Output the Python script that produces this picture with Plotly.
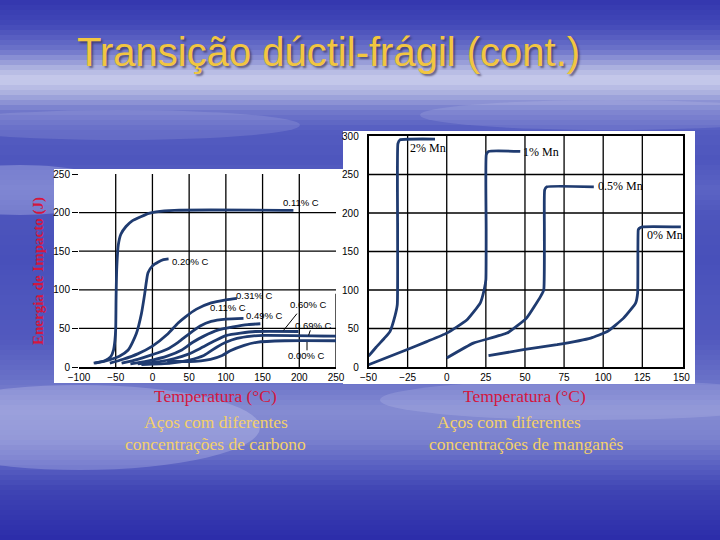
import plotly.graph_objects as go

# ---------------- data: carbon steels (Temperature °C -> Impact energy J)
c_labels = ["0.11% C", "0.20% C", "0.31% C", "0.11% C", "0.49% C", "0.60% C", "0.69% C", "0.00% C"]

c011_T = [-80, -65, -57, -53, -51, -50, -49.5, -48.5, -46.5, -43, -36, -28, -15, -5, 5, 30, 192]
c011_E = [5, 8, 13, 22, 35, 50, 90, 130, 158, 172, 182, 189, 195, 199, 201, 203, 203]

c020_T = [-78, -60, -45, -33, -22, -15, -10.5, -8, -6, 0, 8, 15, 22]
c020_E = [5, 9, 14, 22, 43, 69, 95, 112, 122, 131, 136, 139, 140]

c031_T = [-58, -40, -20, 0, 20, 35, 45, 60, 80, 100, 115]
c031_E = [5, 10, 17, 27, 42, 57, 65, 75, 83, 87, 89]

c041_T = [-42, -20, 0, 20, 35, 50, 65, 80, 100, 124]
c041_E = [5, 10, 16, 23, 32, 43, 53, 59, 62, 63]

c049_T = [-30, 0, 20, 40, 55, 70, 90, 110, 130, 147]
c049_E = [4, 9, 14, 22, 32, 40, 48, 52, 55, 56]

c060_T = [-20, 10, 30, 50, 65, 85, 101, 120, 140, 199]
c060_E = [4, 7, 11, 17, 24, 34, 41, 44, 46, 46]

c069_T = [-15, 25, 50, 70, 88, 100, 115, 135, 151, 250]
c069_E = [3, 5, 9, 15, 26, 32, 37, 40, 41, 40]

c000_T = [20, 50, 79, 95, 106, 125, 142, 180, 250]
c000_E = [8, 7, 10, 15, 21, 28, 32, 34, 34]

carbon_T = [c011_T, c020_T, c031_T, c041_T, c049_T, c060_T, c069_T, c000_T]
carbon_E = [c011_E, c020_E, c031_E, c041_E, c049_E, c060_E, c069_E, c000_E]

# ---------------- data: manganese steels
mn_labels = ["2% Mn", "1% Mn", "0.5% Mn", "0% Mn"]

mn2_T = [-50, -45, -40, -36.3, -33.1, -31.6, -31.4, -31.2, -29.9, -7.5]
mn2_E = [14, 26, 37, 46, 66, 81, 178, 290, 295, 296]

mn1_T = [-50, -25.6, -12.8, 0, 12.8, 21.4, 23.9, 25, 25.2, 25.3, 26.7, 47]
mn1_E = [3, 22.5, 33, 44, 61, 83, 100, 113, 178, 276, 280, 280]

mn05_T = [0, 17, 38.5, 51, 60, 62, 62.4, 62.6, 64, 94]
mn05_E = [11.7, 31, 44, 63.5, 91.7, 100, 178, 230, 234, 234]

mn0_T = [26.7, 49, 70.5, 92, 102.6, 113, 120.7, 122, 122.4, 123, 125, 149.6]
mn0_E = [14.7, 22.5, 29, 37.6, 46, 63.5, 83, 96, 178, 180, 182, 182]

mn_T = [mn2_T, mn1_T, mn05_T, mn0_T]
mn_E = [mn2_E, mn1_E, mn05_E, mn0_E]

# tick values
c_xticks = [-100, -50, 0, 50, 100, 150, 200, 250]
c_yticks = [0, 50, 100, 150, 200, 250]
m_xticks = [-50, -25, 0, 25, 50, 75, 100, 125, 150]
m_yticks = [0, 50, 100, 150, 200, 250, 300]

# ---------------- styling / layout helpers
W, H = 720, 540
LINE = "#1f3b70"


def px(x):
    return x / W


def py(y):
    return 1 - y / H


def hex2rgb(h):
    h = h.lstrip("#")
    return tuple(int(h[i:i + 2], 16) for i in (0, 2, 4))


bg_stops = [(0, "#3336ae"), (25, "#4349b8"), (50, "#6d74ca"), (70, "#b4b8e2"), (80, "#c9cced"),
            (92, "#aeb3e0"), (110, "#747bcc"), (130, "#545cc0"), (160, "#4e56bd"), (190, "#5c64c4"),
            (215, "#4d55bc"), (260, "#4850ba"), (300, "#4e56bd"), (340, "#5259be"), (380, "#6a72c8"),
            (410, "#858cd2"), (440, "#7a81ce"), (465, "#5a61c2"), (490, "#3f44b4"), (540, "#2b2ca9")]


def bg_color(y):
    for (y0, c0), (y1, c1) in zip(bg_stops[:-1], bg_stops[1:]):
        if y0 <= y <= y1:
            t = (y - y0) / (y1 - y0)
            a, b = hex2rgb(c0), hex2rgb(c1)
            return "rgb(%d,%d,%d)" % tuple(round(a[i] + (b[i] - a[i]) * t) for i in range(3))
    return bg_stops[-1][1]


shapes = []
step = 5
for y in range(0, H, step):
    shapes.append(dict(type="rect", xref="paper", yref="paper", x0=0, x1=1,
                       y0=py(y + step + 0.5), y1=py(y), fillcolor=bg_color(y + step / 2),
                       line=dict(width=0), layer="below"))
# soft light streaks
for (x0, y0, x1, y1, op) in [(-80, 165, 120, 215, 0.25), (-100, 385, 260, 470, 0.22),
                             (380, 380, 800, 420, 0.15), (200, 290, 560, 320, 0.10),
                             (-60, 110, 300, 140, 0.12), (420, 100, 800, 130, 0.12)]:
    shapes.append(dict(type="circle", xref="paper", yref="paper", x0=px(x0), x1=px(x1),
                       y0=py(y1), y1=py(y0), fillcolor="rgba(235,238,255,%.2f)" % op,
                       line=dict(width=0), layer="below"))
# white chart panels
shapes.append(dict(type="rect", xref="paper", yref="paper", x0=px(54), x1=px(343.5),
                   y0=py(383), y1=py(169), fillcolor="white", line=dict(width=0), layer="below"))
shapes.append(dict(type="rect", xref="paper", yref="paper", x0=px(343), x1=px(695),
                   y0=py(384), y1=py(131), fillcolor="white", line=dict(width=0), layer="below"))

GRID = dict(color="black", width=1.3)
# carbon chart grid
for v in c_xticks[1:-1]:
    shapes.append(dict(type="line", xref="x", yref="y", x0=v, x1=v, y0=0, y1=250, line=GRID, layer="below"))
for v in c_yticks[1:-1]:
    shapes.append(dict(type="line", xref="x", yref="y", x0=-100, x1=250, y0=v, y1=v, line=GRID, layer="below"))
shapes.append(dict(type="line", xref="x", yref="y", x0=250, x1=250, y0=0, y1=95, line=GRID, layer="below"))
# manganese chart grid
for v in m_xticks[1:-1]:
    shapes.append(dict(type="line", xref="x2", yref="y2", x0=v, x1=v, y0=0, y1=300, line=GRID, layer="below"))
for v in m_yticks[1:-1]:
    shapes.append(dict(type="line", xref="x2", yref="y2", x0=-50, x1=151, y0=v, y1=v, line=GRID, layer="below"))

# leader lines for carbon labels
LEAD = dict(color="black", width=1)
for (a, b, c, d) in [(178.6, 47.5, 196.8, 69.1), (215, 47.5, 212.7, 41), (210.5, 32.4, 210.5, 21.6)]:
    shapes.append(dict(type="line", xref="x", yref="y", x0=a, y0=b, x1=c, y1=d, line=LEAD))

fig = go.Figure()
for T, E, name in zip(carbon_T, carbon_E, c_labels):
    fig.add_trace(go.Scatter(x=T, y=E, mode="lines", name=name, xaxis="x", yaxis="y",
                             line=dict(color=LINE, width=2.8, shape="spline", smoothing=0.6),
                             showlegend=False, hoverinfo="skip"))
for T, E, name in zip(mn_T, mn_E, mn_labels):
    fig.add_trace(go.Scatter(x=T, y=E, mode="lines", name=name, xaxis="x2", yaxis="y2",
                             line=dict(color=LINE, width=2.8, shape="spline", smoothing=0.4),
                             showlegend=False, hoverinfo="skip"))

CFONT = dict(family="Liberation Sans Narrow, Liberation Sans, Arial", size=9.5, color="black")
MFONT = dict(family="Liberation Serif, Times New Roman", size=12, color="black")
c_label_pos = [(203, 213), (52, 137), (139, 92), (103, 77), (153, 67), (212, 81), (219, 54), (210, 15)]
m_label_pos = [(-24.5, 284), (47.5, 279), (95.5, 235), (126.5, 171)]

annotations = []
for (x, y), t in zip(c_label_pos, c_labels):
    annotations.append(dict(x=x, y=y, xref="x", yref="y", text=t, showarrow=False, font=CFONT,
                            xanchor="center", yanchor="middle"))
for (x, y), t in zip(m_label_pos, mn_labels):
    annotations.append(dict(x=x, y=y, xref="x2", yref="y2", text=t, showarrow=False, font=MFONT,
                            xanchor="left", yanchor="middle"))


def paper_text(x, y, text, font, angle=0):
    return dict(x=px(x), y=py(y), xref="paper", yref="paper", text=text, showarrow=False,
                font=font, xanchor="center", yanchor="middle", textangle=angle)


TITLE = "Transição dúctil-frágil (cont.)"
annotations.append(paper_text(328, 52, TITLE, dict(family="Liberation Sans, Arial", size=40, color="#f2c640",
                                                   shadow="2px 2px 2px rgba(50,40,70,0.6)")))

RED = "#d4163e"
YEL = "#f3d06a"
SER = "Liberation Serif, Times New Roman"
annotations.append(paper_text(38, 271, "<b>Energia de Impacto (J)</b>", dict(family=SER, size=15, color=RED), -90))
for cx in (215.5, 524):
    annotations.append(paper_text(cx, 396, "Temperatura (°C)", dict(family=SER, size=17.5, color=RED)))
for cx, line1, line2, cx2 in [(216, "Aços com diferentes", "concentrações de carbono", 215),
                              (509, "Aços com diferentes", "concentrações de manganês", 526)]:
    annotations.append(paper_text(cx, 422, line1, dict(family=SER, size=17.5, color=YEL)))
    annotations.append(paper_text(cx2, 444, line2, dict(family=SER, size=17.5, color=YEL)))

TICKF = dict(family="Liberation Sans, Arial", size=10, color="black")
fig.update_layout(
    width=W, height=H, margin=dict(l=0, r=0, t=0, b=0, autoexpand=False),
    paper_bgcolor="#4a52bb", plot_bgcolor="white",
    shapes=shapes, annotations=annotations, showlegend=False,
    xaxis=dict(domain=[px(79), px(336)], range=[-100, 250], tickvals=c_xticks, showgrid=False,
               zeroline=False, showline=True, linecolor="black", linewidth=1.5, ticks="",
               tickfont=TICKF, anchor="y", fixedrange=True, automargin=False),
    yaxis=dict(domain=[py(367), py(174)], range=[0, 250], tickvals=c_yticks, showgrid=False,
               zeroline=False, showline=False, ticks="outside", ticklen=6, tickwidth=1.3,
               tickcolor="black", tickfont=TICKF, anchor="x", fixedrange=True, automargin=False),
    xaxis2=dict(domain=[px(368.5), px(683)], range=[-50, 151], tickvals=m_xticks, showgrid=False,
                zeroline=False, showline=True, mirror=True, linecolor="black", linewidth=1.5, ticks="",
                tickfont=TICKF, anchor="y2", fixedrange=True, automargin=False),
    yaxis2=dict(domain=[py(367), py(136)], range=[0, 300], tickvals=m_yticks, showgrid=False,
                zeroline=False, showline=True, mirror=True, linecolor="black", linewidth=1.5, ticks="",
                ticklabelstandoff=6, tickfont=TICKF, anchor="x2", fixedrange=True, automargin=False),
)

fig.write_html("out.html", config={"displayModeBar": False},
               post_script="document.body.style.margin='0';document.body.style.overflow='hidden';")
